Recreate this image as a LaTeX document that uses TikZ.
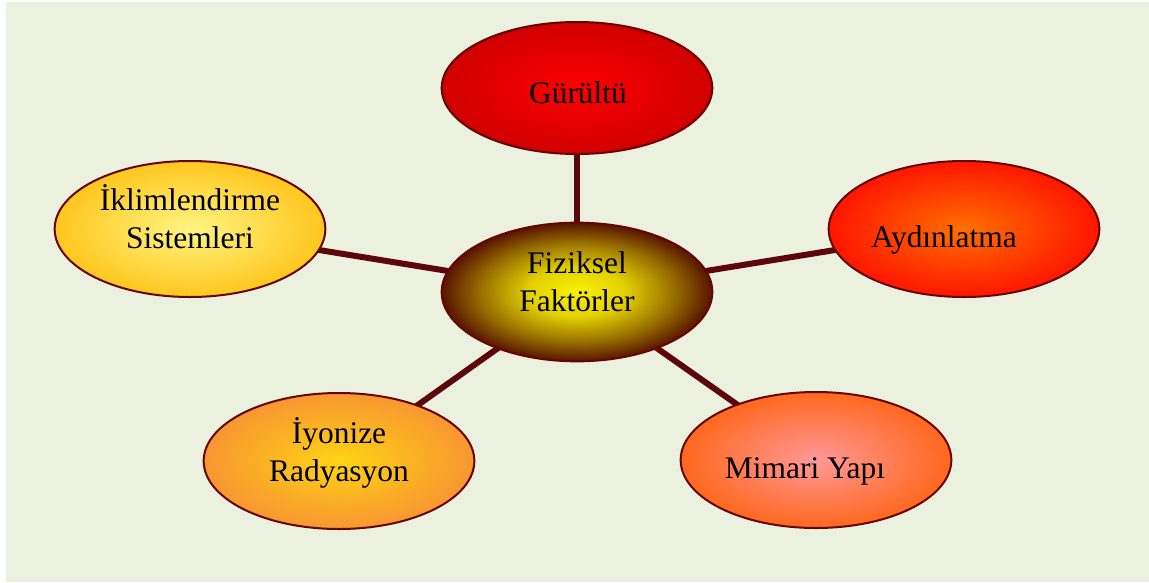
\documentclass[tikz,border=0pt]{standalone}
\usepackage{fontspec}
\setmainfont{Liberation Serif}
\usetikzlibrary{shapes.geometric,calc,backgrounds}

\definecolor{paper}{RGB}{235,241,222}
\definecolor{rim}{RGB}{100,6,6}
\definecolor{spoke}{RGB}{92,8,8}
\definecolor{hubA}{RGB}{250,240,0}
\definecolor{hubB}{RGB}{226,208,0}
\definecolor{hubC}{RGB}{150,110,0}
\definecolor{hubD}{RGB}{88,20,0}

% bright core fading to dark brown at the rim
\pgfdeclareradialshading{hubglow}{\pgfpointorigin}{%
  color(0bp)=(hubA); color(9bp)=(hubB); color(18bp)=(hubC);
  color(25bp)=(hubD); color(50bp)=(hubD)}

\tikzset{
  bubble/.style={ellipse, draw=rim, line width=1.5pt, inner sep=0pt,
    minimum width=203pt, minimum height=102pt, shade, shading=radial},
  lbl/.style={inner sep=0pt, anchor=base, text=black,
    font=\fontsize{23.6}{29.2}\selectfont},
  link/.style={draw=spoke, line width=4.5pt}
}

\begin{document}
\begin{tikzpicture}[x=0.75pt, y=-0.75pt]
\useasboundingbox (0,0) rectangle (1149,582);

% the six bubbles
\node[bubble, minimum height=104pt, shading=hubglow] (fiz) at (577,292) {};
\node[bubble, minimum height=99pt, inner color={rgb,255:red,255;green,0;blue,0}, outer color={rgb,255:red,208;green,0;blue,0}] (gur) at (577,88) {};
\node[bubble, inner color={rgb,255:red,255;green,112;blue,0}, outer color={rgb,255:red,255;green,22;blue,0}] (ayd) at (964,229) {};
\node[bubble, inner color={rgb,255:red,255;green,245;blue,130}, outer color={rgb,255:red,255;green,198;blue,30}] (ikl) at (190,229) {};
\node[bubble, inner color={rgb,255:red,255;green,212;blue,20}, outer color={rgb,255:red,247;green,150;blue,50}] (iyo) at (339,461) {};
\node[bubble, inner color={rgb,255:red,255;green,152;blue,152}, outer color={rgb,255:red,255;green,104;blue,30}] (mim) at (816,460) {};

% labels
\node[lbl] (fizT) at ($(fiz)+(0,-19)$) {\begin{tabular}[t]{@{}c@{}}Fiziksel\\Faktörler\end{tabular}};
\node[lbl] (gurT) at ($(gur)+(1,15)$) {Gürültü};
\node[lbl] (aydT) at ($(ayd)+(-20,18)$) {Aydınlatma};
\node[lbl] (iklT) at ($(ikl)+(0,-19)$) {\begin{tabular}[t]{@{}c@{}}İklimlendirme\\Sistemleri\end{tabular}};
\node[lbl] (iyoT) at ($(iyo)+(0,-18)$) {\begin{tabular}[t]{@{}c@{}}İyonize\\Radyasyon\end{tabular}};
\node[lbl] (mimT) at ($(mim)+(-11,18)$) {Mimari Yapı};

% backdrop and spokes behind the bubbles
\begin{pgfonlayer}{background}
  \fill[white] (0,0) rectangle (1149,582);
  \fill[paper] (6,2) rectangle (1149,582);
  \draw[link] (fiz.center) -- (gur.center);
  \draw[link] (fiz.center) -- (ayd.center);
  \draw[link] (fiz.center) -- (ikl.center);
  \draw[link] (fiz.center) -- (iyo.center);
  \draw[link] (fiz.center) -- (mim.center);
\end{pgfonlayer}
\end{tikzpicture}
\end{document}
